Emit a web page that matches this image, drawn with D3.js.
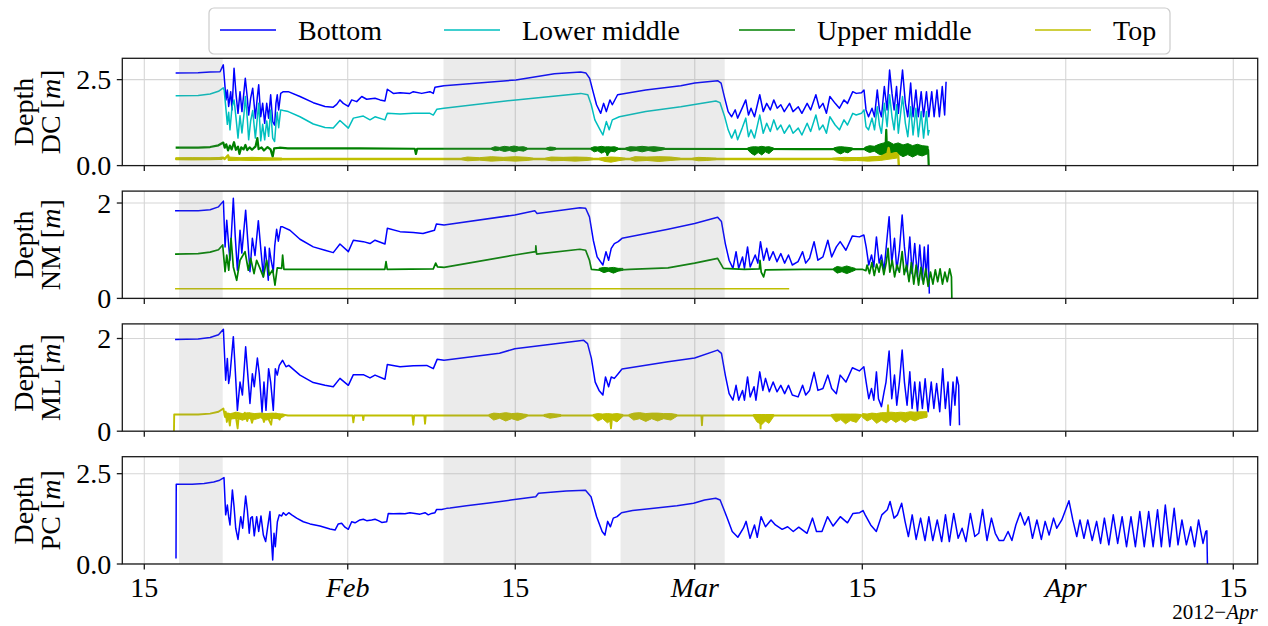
<!DOCTYPE html>
<html>
<head>
<meta charset="utf-8">
<script src="https://cdn.jsdelivr.net/npm/d3@7"></script>
<style>
  body { margin: 0; background: #fff; }
  svg text { font-family: "Liberation Serif", "Times New Roman", serif; fill: #000; }
</style>
</head>
<body>
<svg id="chart" width="1268" height="626"></svg>
<script>
// Water depth at four stations, winter–spring 2012.
// Times are day-of-year 2012 (1 = Jan 1, fractional days); depths in metres.
// "Bands" give the spread [day, low, high] of the noisy sensor traces.

const seriesNames = ["Bottom", "Lower middle", "Upper middle", "Top"];
const panelCodes = ["DC", "NM", "ML", "PC"];

const xTickDays = [15, 32, 46, 61, 75, 92, 106];
const xTickLabels = ["15", "Feb", "15", "Mar", "15", "Apr", "15"];
const panelYTicks = [[0, 2.5], [0, 2], [0, 2], [0, 2.5]];
const panelYTickLabels = [["0.0", "2.5"], ["0", "2"], ["0", "2"], ["0.0", "2.5"]];
const panelYMax = [3.12, 2.25, 2.315, 2.97];

// periods highlighted in grey
const shadePeriods = [[17.9, 21.55], [40.0, 52.35], [54.8, 63.5]];

// ---- DC ----
const dcBottom = [
[17.62,2.69],[19.5,2.70],[20.5,2.72],[21.33,2.73],[21.60,2.93],[21.83,1.91],[21.94,2.20],[22.05,1.72],[22.22,2.15],[22.33,1.62],[22.50,2.83],[22.66,2.10],[22.83,1.52],[23.00,2.15],[23.16,1.57],[23.33,2.15],[23.44,2.54],[23.61,1.96],[23.72,1.47],[23.89,1.96],[24.06,2.25],[24.28,1.38],[24.45,2.01],[24.56,2.35],[24.73,1.42],[24.89,1.81],[25.06,1.23],[25.23,1.81],[25.39,1.38],[25.56,2.06],[25.73,1.28],[25.89,1.18],[26.00,1.81],[26.11,2.06],[26.23,1.62],[26.40,2.10],[26.62,2.15],[27.03,2.15],[28.01,2.01],[29.12,1.83],[30.10,1.72],[30.79,1.70],[31.08,1.78],[31.35,1.91],[31.63,1.81],[32.05,1.72],[32.33,1.91],[32.75,1.86],[33.17,2.01],[33.58,1.93],[34.28,1.96],[34.70,1.91],[35.11,1.88],[35.31,2.22],[35.81,2.10],[36.37,2.12],[37.20,2.10],[37.48,2.15],[38.18,2.10],[38.87,2.15],[39.15,2.10],[39.29,2.28],[40.04,2.32],[46.05,2.49],[49.27,2.67],[51.47,2.72],[51.91,2.69],[52.21,2.54],[52.50,2.15],[52.79,1.77],[53.14,1.52],[53.38,1.81],[53.61,1.57],[53.91,1.91],[54.11,1.77],[54.55,2.06],[56.90,2.20],[59.83,2.32],[61.00,2.40],[62.91,2.47],[63.20,2.40],[63.50,1.96],[63.79,1.57],[64.08,1.42],[64.38,1.62],[64.58,1.38],[64.96,1.67],[65.26,1.91],[65.49,1.47],[65.70,1.67],[65.99,1.42],[66.43,2.06],[66.72,1.57],[67.01,1.81],[67.31,1.62],[67.60,1.91],[67.89,1.67],[68.19,1.77],[68.48,1.57],[68.92,1.81],[69.21,1.57],[69.65,1.71],[69.95,1.52],[70.39,1.81],[70.68,1.62],[71.12,2.06],[71.41,1.67],[71.71,1.81],[72.00,1.52],[72.29,2.01],[72.73,1.81],[73.09,1.67],[73.47,1.91],[73.76,1.81],[74.20,2.15],[74.49,2.10],[74.93,2.12],[75.14,2.20],[75.31,1.62],[75.52,1.42],[75.81,1.67],[76.02,1.42],[76.25,2.20],[76.43,1.62],[76.60,1.42],[76.84,2.30],[77.07,1.62],[77.28,2.78],[77.48,2.10],[77.66,1.62],[77.86,2.30],[78.01,1.52],[78.36,2.78],[78.60,1.81],[78.80,1.42],[79.04,2.40],[79.24,1.42],[79.48,2.20],[79.68,1.42],[79.92,2.15],[80.12,1.42],[80.36,2.15],[80.56,1.42],[80.80,2.15],[81.00,1.42],[81.24,2.20],[81.44,1.42],[81.68,2.30],[81.88,1.47],[82.00,2.44]
];
const dcLowerMid = [
[17.62,2.03],[19.5,2.04],[20.5,2.08],[21.2,2.16],[21.60,2.26],[21.67,2.20],[21.83,1.62],[21.94,1.20],[22.05,1.55],[22.16,1.04],[22.33,1.70],[22.50,1.91],[22.66,1.40],[22.83,0.80],[23.00,1.45],[23.16,0.95],[23.33,1.50],[23.44,2.01],[23.61,1.35],[23.72,0.75],[23.89,1.30],[24.06,1.60],[24.28,0.80],[24.45,1.40],[24.56,1.81],[24.73,0.72],[24.89,1.20],[25.06,0.75],[25.23,1.30],[25.39,0.85],[25.56,1.62],[25.73,0.80],[25.89,0.70],[26.00,1.20],[26.11,1.55],[26.23,1.10],[26.40,1.62],[26.62,1.60],[27.03,1.57],[28.01,1.42],[29.12,1.21],[30.10,1.11],[30.79,1.09],[31.35,1.31],[32.05,1.09],[32.47,1.38],[33.30,1.44],[33.86,1.33],[34.28,1.42],[35.11,1.33],[35.31,1.52],[36.37,1.50],[37.48,1.52],[38.87,1.52],[39.15,1.47],[39.45,1.64],[40.04,1.67],[46.05,1.91],[51.47,2.10],[52.06,2.06],[52.35,1.77],[52.65,1.33],[53.09,1.04],[53.32,0.89],[53.61,1.28],[53.85,1.04],[54.11,1.33],[54.70,1.42],[56.90,1.57],[59.83,1.71],[62.76,1.88],[63.11,1.83],[63.50,1.42],[63.79,1.04],[64.08,0.80],[64.38,1.04],[64.58,0.75],[64.96,1.09],[65.26,1.38],[65.49,0.84],[65.70,1.04],[65.99,0.80],[66.43,1.47],[66.72,0.94],[67.01,1.23],[67.31,0.99],[67.60,1.33],[67.89,1.04],[68.19,1.18],[68.48,0.94],[68.92,1.18],[69.21,0.94],[69.65,1.09],[69.95,0.89],[70.39,1.23],[70.68,0.99],[71.12,1.47],[71.41,1.04],[71.71,1.18],[72.00,0.94],[72.29,1.42],[72.73,1.18],[73.09,1.04],[73.47,1.33],[73.76,1.18],[74.20,1.52],[74.49,1.47],[74.93,1.52],[75.14,1.62],[75.31,1.13],[75.52,1.04],[75.81,1.38],[76.02,1.04],[76.25,1.71],[76.43,1.18],[76.60,0.94],[76.84,1.81],[77.07,1.13],[77.28,2.06],[77.48,1.42],[77.66,1.04],[77.86,1.77],[78.01,0.94],[78.36,2.01],[78.60,1.23],[78.80,0.84],[79.04,1.71],[79.24,0.89],[79.48,1.67],[79.68,0.84],[79.92,1.57],[80.12,0.80],[80.36,1.57],[80.50,0.89],[80.59,1.04]
];
const dcUpperMid = [
[17.62,0.52],[19.5,0.52],[20.5,0.54],[21.2,0.59],[21.6,0.67],[21.72,0.52],[21.85,0.62],[22.0,0.44],[22.15,0.58],[22.3,0.47],[22.5,0.68],[22.65,0.46],[22.83,0.55],[22.95,0.34],[23.1,0.53],[23.3,0.47],[23.45,0.60],[23.6,0.45],[23.8,0.53],[24.0,0.46],[24.3,0.56],[24.45,0.80],[24.55,0.48],[24.8,0.53],[25.0,0.44],[25.3,0.54],[25.55,0.47],[25.73,0.26],[25.85,0.50],[26.3,0.52],[27.0,0.50],[33.0,0.50],[37.6,0.49],[37.7,0.34],[37.8,0.49],[53.6,0.49],[53.7,0.31],[53.8,0.49],[70.0,0.48],[75.0,0.48],[76.5,0.50],[76.95,0.60],[77.0,1.04],[77.05,0.55],[77.5,0.45],[78.0,0.58],[78.5,0.40],[79.0,0.52],[79.5,0.35],[80.0,0.52],[80.5,0.45],[80.55,0.0]
];
const dcUpperMidBands = [
  [[44.0,0.47,0.51],[44.3,0.43,0.55],[44.7,0.45,0.53],[45.1,0.41,0.56],[45.5,0.44,0.54],[45.9,0.40,0.57],[46.3,0.44,0.54],[46.7,0.42,0.55],[47.0,0.47,0.51]],
  [[48.6,0.47,0.51],[48.9,0.44,0.54],[49.2,0.45,0.53],[49.4,0.47,0.51]],
  [[52.3,0.47,0.51],[52.6,0.40,0.55],[52.9,0.43,0.54],[53.2,0.36,0.56],[53.5,0.41,0.54],[53.7,0.31,0.55],[54.0,0.42,0.54],[54.3,0.40,0.55],[54.6,0.47,0.51]],
  [[55.2,0.47,0.51],[55.6,0.42,0.55],[56.1,0.44,0.54],[56.6,0.40,0.56],[57.1,0.44,0.54],[57.6,0.41,0.55],[58.1,0.44,0.53],[58.5,0.47,0.51]],
  [[65.4,0.47,0.51],[65.7,0.36,0.54],[66.0,0.30,0.55],[66.3,0.38,0.54],[66.6,0.31,0.56],[66.9,0.40,0.54],[67.2,0.35,0.55],[67.6,0.47,0.51]],
  [[72.6,0.47,0.51],[72.9,0.38,0.54],[73.2,0.34,0.55],[73.5,0.40,0.54],[73.8,0.37,0.53],[74.2,0.47,0.51]],
  [[75.2,0.45,0.53],[75.6,0.38,0.58],[76.0,0.42,0.56],[76.4,0.33,0.62],[76.8,0.30,0.66],[77.2,0.36,0.70],[77.6,0.28,0.62],[78.0,0.34,0.66],[78.4,0.26,0.60],[78.8,0.32,0.64],[79.2,0.25,0.58],[79.6,0.32,0.62],[80.0,0.28,0.58],[80.5,0.35,0.56]]
];
const dcTop = [
[17.62,0.20],[21.0,0.20],[21.6,0.23],[21.7,0.19],[22.0,0.30],[22.1,0.18],[30.0,0.19],[50.0,0.19],[70.0,0.19],[74.0,0.20],[75.5,0.22],[76.5,0.25],[77.1,0.35],[77.2,0.51],[77.3,0.30],[77.8,0.36],[78.0,0.30],[78.05,0.0]
];
const dcTopBands = [
  [[17.62,0.17,0.225],[19.0,0.165,0.23],[20.5,0.17,0.225],[21.5,0.18,0.24]],
  [[22.0,0.15,0.25],[23.0,0.16,0.23],[24.0,0.15,0.24],[25.0,0.16,0.23],[26.5,0.17,0.22]],
  [[41.5,0.175,0.215],[42.0,0.14,0.25],[43.0,0.16,0.23],[44.0,0.13,0.26],[45.0,0.15,0.24],[46.0,0.13,0.26],[47.0,0.15,0.24],[47.5,0.175,0.215]],
  [[48.5,0.175,0.215],[49.0,0.14,0.25],[50.0,0.15,0.24],[51.0,0.13,0.25],[52.0,0.15,0.24],[52.5,0.175,0.215]],
  [[53.0,0.175,0.215],[53.5,0.12,0.24],[54.0,0.10,0.25],[54.6,0.14,0.24],[55.2,0.175,0.215]],
  [[55.6,0.175,0.215],[56.0,0.13,0.26],[57.0,0.15,0.25],[58.0,0.12,0.26],[59.0,0.15,0.25],[59.8,0.175,0.215]],
  [[60.8,0.175,0.215],[61.3,0.14,0.24],[62.0,0.15,0.23],[62.8,0.175,0.215]],
  [[72.5,0.175,0.215],[73.5,0.14,0.24],[74.5,0.15,0.23],[75.5,0.13,0.25],[76.5,0.15,0.27],[77.5,0.20,0.36],[77.9,0.22,0.38]]
];

// ---- NM ----
const nmBottom = [
[17.57,1.84],[19.5,1.84],[20.5,1.86],[21.2,1.92],[21.61,2.04],[21.75,1.08],[21.89,1.64],[22.06,1.08],[22.16,0.80],[22.44,2.10],[22.60,1.30],[22.78,0.59],[23.00,1.43],[23.15,0.95],[23.47,1.85],[23.65,1.20],[23.83,0.56],[24.03,1.26],[24.25,0.90],[24.53,1.63],[24.75,1.00],[24.95,0.45],[25.08,1.08],[25.25,0.70],[25.36,0.38],[25.45,1.05],[25.60,0.80],[25.78,0.56],[25.90,1.10],[26.06,1.45],[26.20,1.20],[26.40,1.50],[26.56,1.50],[27.17,1.43],[28.01,1.24],[29.12,1.08],[30.10,1.01],[30.79,0.96],[31.35,1.14],[32.05,0.98],[32.47,1.22],[33.30,1.19],[33.86,1.15],[34.28,1.22],[35.11,1.14],[35.31,1.47],[36.37,1.40],[37.48,1.38],[38.29,1.36],[39.25,1.43],[39.41,1.56],[40.05,1.54],[45.96,1.75],[47.63,1.84],[47.82,1.78],[51.40,1.90],[51.88,1.89],[52.20,1.71],[52.52,1.22],[52.84,0.87],[53.32,0.70],[53.58,0.98],[53.80,0.80],[54.02,1.05],[54.28,1.15],[54.60,1.19],[54.92,1.26],[58.76,1.45],[60.99,1.57],[62.91,1.70],[63.23,1.61],[63.55,1.15],[63.87,0.80],[64.19,0.63],[64.45,0.98],[64.67,0.63],[64.99,0.87],[65.15,0.63],[65.41,1.08],[65.63,0.66],[66.05,0.91],[66.27,0.74],[66.49,1.19],[66.75,0.80],[67.01,1.05],[67.23,0.80],[67.55,0.98],[67.87,0.77],[68.19,0.94],[68.51,0.74],[68.83,0.91],[69.15,0.70],[69.63,0.77],[70.01,0.98],[70.27,0.74],[70.59,0.84],[70.97,1.19],[71.29,0.80],[71.71,0.87],[72.12,1.22],[72.44,0.87],[72.83,1.08],[73.15,1.19],[73.63,1.01],[74.17,1.31],[74.75,1.29],[75.13,1.33],[75.32,1.08],[75.54,0.70],[75.77,0.91],[75.96,0.66],[76.18,1.29],[76.41,0.74],[76.60,0.91],[76.82,0.59],[77.05,1.22],[77.24,1.71],[77.46,0.74],[77.69,1.26],[77.88,0.59],[78.10,1.01],[78.33,1.75],[78.52,1.08],[78.74,0.56],[78.97,1.29],[79.16,0.52],[79.38,1.15],[79.61,0.45],[79.80,1.12],[80.02,0.38],[80.18,1.08],[80.34,0.45],[80.50,1.12],[80.60,0.10]
];
const nmUpperMid = [
[17.57,0.93],[19.5,0.94],[20.5,0.97],[21.2,1.02],[21.55,1.12],[21.75,0.56],[21.89,0.91],[22.06,0.59],[22.25,1.26],[22.44,0.66],[22.72,0.38],[23.00,0.80],[23.42,0.98],[23.69,0.59],[23.89,0.84],[24.17,0.52],[24.39,0.80],[24.67,0.63],[24.95,0.45],[25.22,0.80],[25.45,0.49],[25.73,0.60],[25.92,0.28],[26.11,0.64],[26.48,0.63],[26.56,0.91],[26.67,0.61],[30.0,0.61],[35.1,0.61],[35.2,0.77],[35.3,0.61],[39.15,0.62],[39.35,0.74],[39.5,0.66],[40.05,0.65],[45.96,0.91],[47.70,0.98],[47.72,1.10],[47.78,0.93],[51.40,1.03],[51.88,1.01],[52.20,0.80],[52.36,0.61],[53.6,0.58],[55.55,0.61],[58.76,0.64],[60.99,0.74],[62.91,0.84],[63.39,0.63],[65.15,0.61],[66.40,0.62],[66.45,0.80],[66.55,0.55],[66.75,0.45],[66.90,0.60],[70.0,0.61],[75.0,0.61],[75.3,0.58],[75.4,0.70],[75.6,0.52],[75.8,0.75],[76.0,0.48],[76.2,0.72],[76.4,0.55],[76.6,0.80],[76.8,0.50],[77.0,0.75],[77.15,1.05],[77.3,0.55],[77.5,0.80],[77.7,0.45],[77.9,0.70],[78.1,0.55],[78.33,0.98],[78.5,0.50],[78.7,0.70],[78.9,0.35],[79.1,0.75],[79.3,0.30],[79.5,0.70],[79.7,0.28],[79.9,0.65],[80.1,0.30],[80.3,0.62],[80.5,0.25],[80.7,0.55],[80.9,0.30],[81.1,0.60],[81.3,0.35],[81.5,0.62],[81.7,0.30],[81.9,0.55],[82.1,0.35],[82.3,0.62],[82.45,0.45],[82.48,0.0]
];
const nmUpperMidBands = [
  [[53.0,0.59,0.63],[53.4,0.54,0.65],[53.8,0.57,0.64],[54.2,0.53,0.65],[54.6,0.57,0.63],[55.0,0.59,0.63]],
  [[72.6,0.59,0.63],[72.9,0.53,0.67],[73.3,0.56,0.65],[73.7,0.52,0.68],[74.1,0.56,0.65],[74.4,0.59,0.63]]
];
const nmTop = [[17.57,0.20],[68.89,0.20]];

// ---- ML ----
const mlBottom = [
[17.57,1.98],[19.5,1.99],[20.5,2.02],[21.2,2.08],[21.61,2.20],[21.80,1.10],[21.94,1.57],[22.05,1.03],[22.16,1.21],[22.44,2.04],[22.58,1.42],[22.78,0.45],[23.00,1.06],[23.20,0.78],[23.47,1.82],[23.61,1.35],[23.83,0.60],[24.03,1.24],[24.19,0.96],[24.45,1.58],[24.61,1.24],[24.84,0.41],[25.00,1.06],[25.17,0.45],[25.39,1.35],[25.56,1.06],[25.78,0.45],[25.95,1.35],[26.11,1.21],[26.28,1.42],[26.56,1.53],[26.84,1.39],[27.07,1.42],[28.01,1.21],[29.12,1.05],[30.10,0.99],[30.79,0.96],[31.35,1.14],[32.05,0.99],[32.47,1.22],[33.30,1.22],[33.86,1.15],[34.28,1.21],[35.11,1.12],[35.31,1.44],[36.37,1.39],[37.48,1.41],[38.60,1.42],[39.15,1.35],[39.47,1.55],[40.05,1.53],[44.68,1.68],[45.96,1.78],[51.72,1.96],[52.04,1.89],[52.36,1.57],[52.68,1.06],[53.00,0.88],[53.32,0.78],[53.54,1.17],[53.80,0.96],[54.02,1.17],[54.28,1.14],[54.60,1.24],[54.92,1.34],[58.76,1.50],[60.99,1.58],[62.91,1.75],[63.23,1.68],[63.55,1.21],[63.87,0.81],[64.19,0.67],[64.45,0.99],[64.67,0.67],[64.99,0.88],[65.15,0.67],[65.41,1.17],[65.63,0.74],[65.95,0.96],[66.11,0.67],[66.43,1.28],[66.69,0.88],[66.91,1.14],[67.23,0.85],[67.55,1.06],[67.87,0.85],[68.19,0.99],[68.51,0.81],[68.83,0.99],[69.15,0.78],[69.63,0.74],[70.01,0.99],[70.27,0.78],[70.59,0.88],[70.97,1.27],[71.29,0.88],[71.71,0.92],[72.12,1.21],[72.44,0.92],[72.83,0.81],[73.15,1.21],[73.63,1.06],[74.17,1.37],[74.75,1.30],[75.13,1.39],[75.32,1.06],[75.54,0.70],[75.77,0.92],[75.96,0.67],[76.18,1.28],[76.35,0.70],[76.60,0.53],[76.82,0.85],[76.98,1.06],[77.24,1.73],[77.46,0.70],[77.69,1.21],[77.88,0.56],[78.10,1.06],[78.33,1.75],[78.52,1.06],[78.74,0.56],[78.97,1.28],[79.16,0.49],[79.38,1.06],[79.61,0.42],[79.80,1.06],[80.02,0.49],[80.25,1.13],[80.50,0.42],[80.76,1.06],[80.98,0.49],[81.21,1.03],[81.47,0.42],[81.72,1.35],[81.94,0.49],[82.16,1.06],[82.35,0.13],[82.58,1.06],[82.74,0.56],[82.90,1.17],[83.05,0.99],[83.12,0.13]
];
const mlTop = [
[17.48,0.0],[17.50,0.36],[19.5,0.36],[20.5,0.38],[21.2,0.42],[21.61,0.49],[21.72,0.33],[21.8,0.42],[21.9,0.20],[22.0,0.38],[22.15,0.12],[22.25,0.36],[22.5,0.28],[22.6,0.40],[22.8,0.06],[22.9,0.35],[23.2,0.25],[23.4,0.40],[23.6,0.22],[23.8,0.38],[24.0,0.18],[24.2,0.36],[24.5,0.30],[24.8,0.38],[25.0,0.20],[25.2,0.36],[25.6,0.14],[25.7,0.34],[26.0,0.38],[26.3,0.25],[26.5,0.36],[27.0,0.34],[32.40,0.34],[32.47,0.19],[32.55,0.34],[33.25,0.34],[33.30,0.24],[33.35,0.34],[37.40,0.34],[37.48,0.14],[37.55,0.34],[38.40,0.34],[38.46,0.16],[38.52,0.34],[53.90,0.34],[54.00,0.06],[54.10,0.34],[61.55,0.34],[61.60,0.13],[61.65,0.34],[66.45,0.34],[66.50,0.06],[66.55,0.34],[77.10,0.34],[77.15,0.56],[77.20,0.34],[80.44,0.34]
];
const mlTopBands = [
  [[21.7,0.30,0.40],[22.2,0.26,0.38],[22.7,0.28,0.41],[23.2,0.24,0.38],[23.7,0.28,0.40],[24.2,0.25,0.38],[24.7,0.29,0.39],[25.2,0.24,0.38],[25.7,0.28,0.39],[26.2,0.27,0.38],[26.7,0.32,0.36]],
  [[43.8,0.32,0.36],[44.2,0.24,0.39],[44.7,0.28,0.38],[45.2,0.22,0.40],[45.7,0.27,0.38],[46.2,0.23,0.39],[46.7,0.28,0.37],[47.0,0.32,0.36]],
  [[48.4,0.32,0.36],[48.9,0.28,0.38],[49.4,0.30,0.37],[49.8,0.32,0.36]],
  [[52.5,0.32,0.36],[52.9,0.22,0.38],[53.3,0.27,0.37],[53.7,0.18,0.38],[54.1,0.25,0.37],[54.5,0.20,0.38],[55.0,0.32,0.36]],
  [[55.5,0.32,0.36],[55.9,0.24,0.39],[56.4,0.27,0.40],[56.9,0.21,0.38],[57.4,0.27,0.39],[57.9,0.22,0.39],[58.4,0.27,0.38],[59.0,0.24,0.38],[59.5,0.32,0.36]],
  [[65.9,0.32,0.36],[66.2,0.20,0.36],[66.6,0.14,0.36],[66.9,0.22,0.36],[67.2,0.17,0.36],[67.6,0.32,0.36]],
  [[72.4,0.32,0.36],[72.8,0.20,0.37],[73.2,0.25,0.37],[73.6,0.16,0.37],[74.0,0.23,0.37],[74.5,0.19,0.37],[74.9,0.32,0.36]],
  [[75.0,0.30,0.38],[75.4,0.22,0.37],[75.8,0.27,0.39],[76.2,0.17,0.38],[76.6,0.24,0.40],[77.0,0.18,0.40],[77.4,0.26,0.41],[77.8,0.19,0.40],[78.2,0.25,0.41],[78.6,0.19,0.40],[79.0,0.26,0.42],[79.4,0.22,0.41],[79.8,0.27,0.42],[80.4,0.30,0.42]]
];

// ---- PC ----
const pcBottom = [
[17.65,0.15],[17.67,2.21],[19.0,2.21],[20.0,2.23],[20.8,2.27],[21.3,2.32],[21.66,2.39],[21.80,1.36],[21.94,1.63],[22.05,1.31],[22.16,1.08],[22.36,2.05],[22.50,1.59],[22.64,0.99],[22.83,0.68],[23.06,1.31],[23.22,0.99],[23.47,1.88],[23.61,1.50],[23.77,0.85],[23.89,1.27],[24.03,1.31],[24.19,0.78],[24.39,1.31],[24.56,0.90],[24.75,1.33],[24.95,0.80],[25.14,0.62],[25.31,1.02],[25.50,1.45],[25.64,0.59],[25.73,0.11],[25.84,0.85],[25.95,0.48],[26.12,1.17],[26.28,1.36],[26.48,1.33],[26.62,1.42],[26.84,1.35],[27.07,1.42],[27.32,1.36],[27.73,1.27],[28.29,1.17],[28.85,1.11],[29.68,1.05],[30.52,0.97],[30.94,0.94],[31.21,1.11],[31.49,1.13],[31.77,1.02],[32.05,0.96],[32.33,1.17],[32.61,1.14],[33.02,1.22],[33.30,1.24],[33.58,1.20],[34.00,1.22],[34.28,1.24],[34.56,1.20],[34.84,1.15],[35.26,1.17],[35.39,1.40],[35.81,1.39],[36.37,1.40],[36.78,1.39],[37.20,1.42],[37.62,1.40],[38.04,1.38],[38.46,1.42],[38.73,1.36],[39.01,1.40],[39.29,1.42],[39.43,1.51],[39.85,1.51],[40.27,1.54],[40.55,1.55],[41.92,1.61],[43.80,1.69],[45.62,1.77],[47.71,1.86],[47.94,1.96],[50.25,2.02],[51.87,2.04],[52.33,1.86],[52.80,1.31],[53.26,0.90],[53.49,0.80],[53.72,1.18],[53.95,1.03],[54.19,1.27],[54.51,1.31],[54.88,1.42],[55.80,1.48],[57.19,1.53],[59.51,1.61],[60.90,1.68],[61.82,1.77],[62.75,1.82],[63.12,1.77],[63.67,1.31],[64.13,0.90],[64.60,0.74],[65.06,0.99],[65.29,1.18],[65.62,0.71],[65.99,1.08],[66.22,0.74],[66.54,1.31],[66.91,1.03],[67.37,1.22],[67.74,1.08],[68.30,0.96],[68.76,1.03],[69.23,0.90],[69.69,1.02],[70.38,0.85],[70.84,1.27],[71.17,0.90],[71.63,0.90],[72.09,1.31],[72.56,1.05],[73.16,1.31],[73.76,1.14],[74.22,1.40],[74.78,1.42],[75.06,1.48],[75.24,1.36],[75.70,1.08],[76.17,0.90],[76.63,1.36],[77.09,1.50],[77.32,1.73],[77.65,1.27],[77.93,1.36],[78.29,1.68],[78.57,1.18],[78.85,0.76],[79.17,1.36],[79.50,0.68],[79.87,1.27],[80.24,0.65],[80.56,1.31],[80.89,0.65],[81.26,1.22],[81.63,0.62],[81.95,1.36],[82.27,0.62],[82.64,1.40],[83.01,0.71],[83.34,0.99],[83.66,0.62],[84.03,1.40],[84.40,0.76],[84.73,0.85],[85.05,1.51],[85.42,0.65],[85.79,1.27],[86.11,0.85],[86.44,0.65],[86.81,0.65],[87.18,0.90],[87.50,0.65],[87.83,1.08],[88.20,1.42],[88.57,1.08],[88.89,1.31],[89.22,0.71],[89.59,1.22],[89.96,0.68],[90.28,1.18],[90.61,0.80],[90.98,1.27],[91.25,0.99],[91.67,1.22],[92.27,1.75],[92.59,1.22],[92.92,0.76],[93.19,1.22],[93.52,0.71],[93.84,1.22],[94.21,0.65],[94.58,1.18],[94.91,0.57],[95.23,1.27],[95.60,0.53],[95.97,1.36],[96.34,0.57],[96.71,1.31],[97.08,0.48],[97.45,1.31],[97.82,0.48],[98.19,1.45],[98.56,0.48],[98.93,1.45],[99.30,0.48],[99.67,1.50],[99.99,0.48],[100.32,1.63],[100.69,0.48],[101.06,1.54],[101.38,0.53],[101.71,1.22],[102.08,0.53],[102.45,1.03],[102.77,0.48],[103.10,1.22],[103.47,0.57],[103.70,0.90],[103.79,0.92],[103.84,0.0]
];

// ---------------------------------------------------------------
const colors = { Bottom: "#0000ff", "Lower middle": "#00bfbf", "Upper middle": "#008000", Top: "#bfbf00" };

const panels = [
  { code: panelCodes[0], series: [
      { name: seriesNames[0], line: dcBottom },
      { name: seriesNames[1], line: dcLowerMid },
      { name: seriesNames[2], line: dcUpperMid, bands: dcUpperMidBands, width: 2.2 },
      { name: seriesNames[3], line: dcTop, bands: dcTopBands, width: 2.4 } ] },
  { code: panelCodes[1], series: [
      { name: seriesNames[0], line: nmBottom },
      { name: seriesNames[2], line: nmUpperMid, bands: nmUpperMidBands, width: 1.7 },
      { name: seriesNames[3], line: nmTop } ] },
  { code: panelCodes[2], series: [
      { name: seriesNames[0], line: mlBottom },
      { name: seriesNames[3], line: mlTop, bands: mlTopBands, width: 1.9 } ] },
  { code: panelCodes[3], series: [
      { name: seriesNames[0], line: pcBottom } ] }
];

const plotLeft = 122.3, plotRight = 1257.7;
const panelTop0 = 58.3, panelStep = 132.8, panelH = 107.3;
const fontMain = 28;

const dayToDate = d => new Date(Date.UTC(2012, 0, 1) + (d - 1) * 864e5);

const x = d3.scaleUtc()
  .domain([dayToDate(13.162), dayToDate(108.04)])
  .range([plotLeft, plotRight]);

const svg = d3.select("#chart");

svg.append("defs").append("clipPath").attr("id", "plotClip")
  .append("rect").attr("x", 0).attr("y", 0)
  .attr("width", plotRight - plotLeft).attr("height", panelH);

panels.forEach((p, i) => {
  const top = panelTop0 + i * panelStep;
  const y = d3.scaleLinear().domain([0, panelYMax[i]]).range([panelH, 0]);
  const g = svg.append("g").attr("transform", `translate(0,${top})`);
  const plot = g.append("g").attr("clip-path", "url(#plotClip)")
    .attr("transform", `translate(${plotLeft},0)`);
  const xs = d => x(dayToDate(d)) - plotLeft;

  // grid
  plot.selectAll("line.vgrid").data(xTickDays).join("line")
    .attr("x1", d => xs(d)).attr("x2", d => xs(d))
    .attr("y1", 0).attr("y2", panelH)
    .attr("stroke", "#d6d6d6").attr("stroke-width", 1.1);
  plot.selectAll("line.hgrid").data(panelYTicks[i]).join("line")
    .attr("x1", 0).attr("x2", plotRight - plotLeft)
    .attr("y1", d => y(d)).attr("y2", d => y(d))
    .attr("stroke", "#d6d6d6").attr("stroke-width", 1.1);

  const line = d3.line().x(d => xs(d[0])).y(d => y(d[1]));
  const area = d3.area().x(d => xs(d[0])).y0(d => y(d[1])).y1(d => y(d[2]));

  p.series.forEach(s => {
    const c = colors[s.name];
    plot.append("path").datum(s.line)
      .attr("d", line).attr("fill", "none").attr("stroke", c)
      .attr("stroke-width", s.width || 1.5).attr("stroke-linejoin", "round");
    if (s.bands) {
      plot.selectAll(null).data(s.bands).join("path")
        .attr("d", area).attr("fill", c).attr("stroke", c)
        .attr("stroke-width", 1).attr("stroke-linejoin", "round");
    }
  });

  // shaded periods over the traces
  plot.selectAll("rect.shade").data(shadePeriods).join("rect")
    .attr("x", d => xs(d[0])).attr("width", d => xs(d[1]) - xs(d[0]))
    .attr("y", 0).attr("height", panelH)
    .attr("fill", "#808080").attr("fill-opacity", 0.16);

  // frame
  g.append("rect").attr("x", plotLeft).attr("y", 0)
    .attr("width", plotRight - plotLeft).attr("height", panelH)
    .attr("fill", "none").attr("stroke", "#1a1a1a").attr("stroke-width", 1.3);

  // x ticks
  g.selectAll("line.xt").data(xTickDays).join("line")
    .attr("x1", d => x(dayToDate(d))).attr("x2", d => x(dayToDate(d)))
    .attr("y1", panelH).attr("y2", panelH + 5.5)
    .attr("stroke", "#1a1a1a").attr("stroke-width", 1.3);

  // y ticks and labels
  g.selectAll("line.yt").data(panelYTicks[i]).join("line")
    .attr("x1", plotLeft - 5.5).attr("x2", plotLeft)
    .attr("y1", d => y(d)).attr("y2", d => y(d))
    .attr("stroke", "#1a1a1a").attr("stroke-width", 1.3);
  g.selectAll("text.yl").data(panelYTicks[i]).join("text")
    .attr("x", plotLeft - 11).attr("y", d => y(d)).attr("dy", "0.34em")
    .attr("text-anchor", "end").attr("font-size", fontMain)
    .text((d, k) => panelYTickLabels[i][k]);

  // axis title, two lines
  const cy = panelH / 2;
  g.append("text").attr("transform", `translate(33,${cy}) rotate(-90)`)
    .attr("text-anchor", "middle").attr("font-size", fontMain).text("Depth");
  const t2 = g.append("text").attr("transform", `translate(60,${cy}) rotate(-90)`)
    .attr("text-anchor", "middle").attr("font-size", fontMain);
  t2.append("tspan").text(p.code + " [");
  t2.append("tspan").attr("font-style", "italic").text("m");
  t2.append("tspan").text("]");

  // x tick labels on the lowest panel only
  if (i === panels.length - 1) {
    g.selectAll("text.xl").data(xTickDays).join("text")
      .attr("x", d => x(dayToDate(d))).attr("y", panelH + 33)
      .attr("text-anchor", "middle").attr("font-size", fontMain)
      .attr("font-style", (d, k) => /^\d+$/.test(xTickLabels[k]) ? "normal" : "italic")
      .text((d, k) => xTickLabels[k]);
    const off = g.append("text").attr("x", plotRight).attr("y", panelH + 55)
      .attr("text-anchor", "end").attr("font-size", 21);
    off.append("tspan").text("2012\u2212");
    off.append("tspan").attr("font-style", "italic").text("Apr");
  }
});

// legend
const legend = svg.append("g");
legend.append("rect").attr("x", 209).attr("y", 8).attr("width", 961).attr("height", 46)
  .attr("rx", 5).attr("fill", "#fff").attr("stroke", "#cccccc").attr("stroke-width", 1.2);
const legendX = [220, 444, 739, 1035];
seriesNames.forEach((n, k) => {
  legend.append("line").attr("x1", legendX[k]).attr("x2", legendX[k] + 56)
    .attr("y1", 30).attr("y2", 30).attr("stroke", colors[n]).attr("stroke-width", 1.5);
  legend.append("text").attr("x", legendX[k] + 78).attr("y", 40)
    .attr("font-size", fontMain).text(n);
});
</script>
</body>
</html>
